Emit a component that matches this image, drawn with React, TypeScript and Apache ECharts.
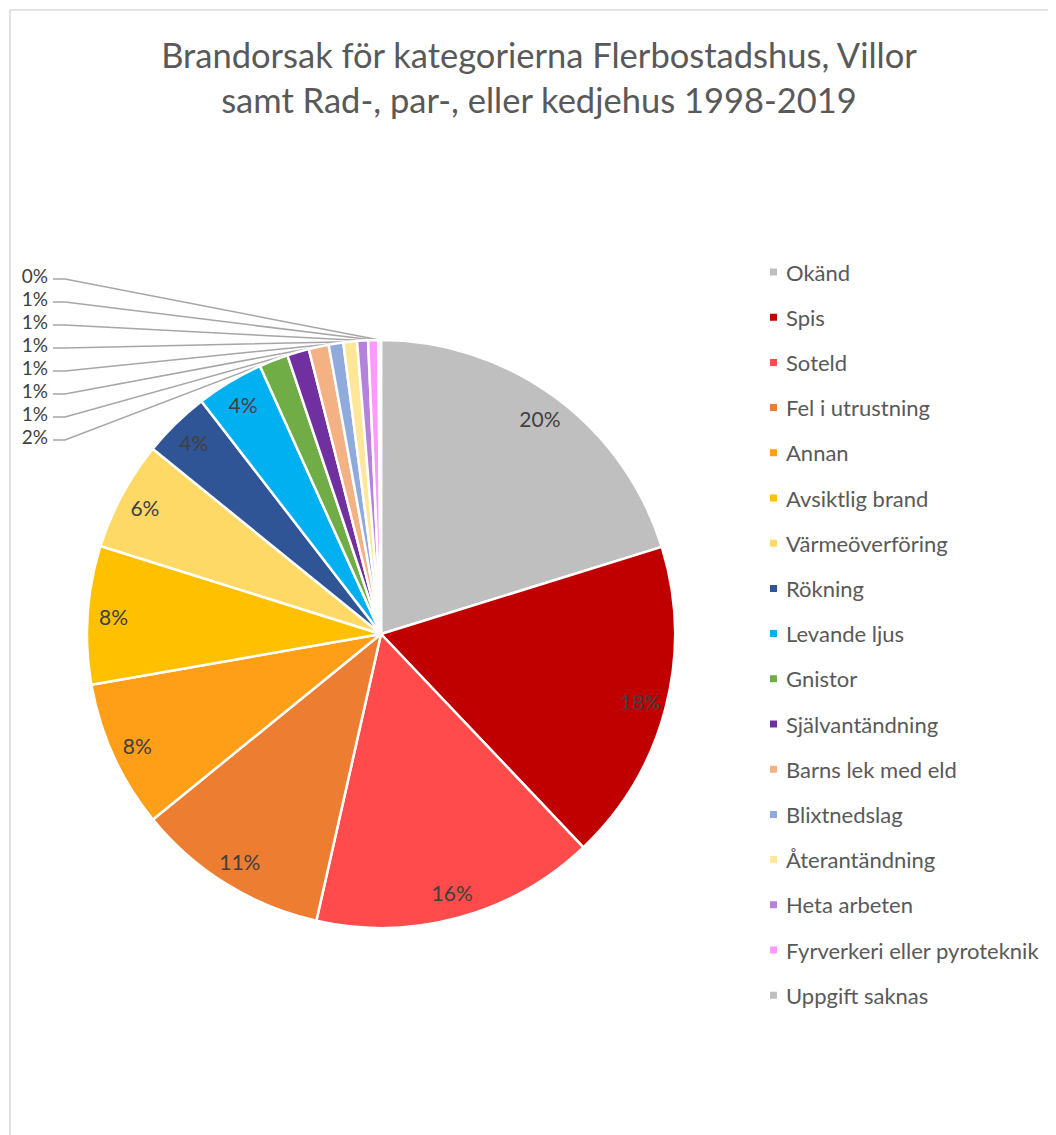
import React, { useEffect, useRef } from "react";
import * as echarts from "echarts";

const categories = [
  "Okänd",
  "Spis",
  "Soteld",
  "Fel i utrustning",
  "Annan",
  "Avsiktlig brand",
  "Värmeöverföring",
  "Rökning",
  "Levande ljus",
  "Gnistor",
  "Självantändning",
  "Barns lek med eld",
  "Blixtnedslag",
  "Återantändning",
  "Heta arbeten",
  "Fyrverkeri eller pyroteknik",
  "Uppgift saknas",
];

const shares = [20.2, 17.7, 15.6, 10.6, 8.1, 7.6, 6.0, 3.7, 3.7, 1.6, 1.2, 1.1, 0.8, 0.75, 0.6, 0.55, 0.15];

const colors = [
  "#BFBFBF",
  "#C00000",
  "#FF4B4B",
  "#ED7D31",
  "#FF9E17",
  "#FFC000",
  "#FFD966",
  "#2F5597",
  "#00B0F0",
  "#70AD47",
  "#7030A0",
  "#F4B183",
  "#8FAADC",
  "#FFE699",
  "#B482DA",
  "#FF99FF",
  "#BFBFBF",
];

const titleLines = [
  "Brandorsak för kategorierna Flerbostadshus, Villor",
  "samt Rad-, par-, eller kedjehus 1998-2019",
];

const insideThreshold = 3;

const FONT = "Lato, 'Liberation Sans', sans-serif";

export default function App() {
  const ref = useRef<HTMLDivElement>(null);

  useEffect(() => {
    if (!ref.current) return;
    const chart = echarts.init(ref.current, null, { renderer: "svg" });
    const total = shares.reduce((a, b) => a + b, 0);
    const pct = (v: number) => Math.round((v / total) * 100) + "%";
    const firstSmall = shares.findIndex((v) => v < insideThreshold);
    const center = [373, 626];
    const R = 294;

    const option: any = {
      animation: false,
      graphic: [
        {
          type: "rect",
          shape: { x: 2, y: 2, width: 1300, height: 1400 },
          style: { fill: "none", stroke: "#d9d9d9", lineWidth: 1.5 },
          silent: true,
        },
        ...titleLines.map((t, i) => ({
          type: "text",
          x: 531,
          y: 46 + i * 45,
          style: {
            text: t,
            align: "center",
            verticalAlign: "middle",
            fontSize: 34.5,
            fontFamily: FONT,
            fill: "#595959",
          },
        })),
      ],
      legend: {
        orient: "vertical",
        left: 760,
        top: 253,
        padding: 0,
        itemWidth: 9,
        itemHeight: 9,
        itemGap: 23.2,
        icon: "rect",
        selectedMode: false,
        data: categories,
        textStyle: {
          fontSize: 22,
          lineHeight: 20,
          padding: [0, 0, 0, 3],
          color: "#595959",
          fontFamily: FONT,
        },
      },
      series: [
        {
          type: "pie",
          center,
          radius: [0, R],
          startAngle: 90,
          clockwise: true,
          avoidLabelOverlap: false,
          itemStyle: { borderColor: "#ffffff", borderWidth: 2.5 },
          label: {
            position: "outside",
            formatter: (p: any) => pct(p.value),
            color: "#404040",
            fontSize: 19,
            lineHeight: 19,
            fontFamily: FONT,
          },
          labelLine: {
            show: true,
            length: 20,
            length2: 20,
            lineStyle: { color: "#a6a6a6", width: 1.5 },
          },
          labelLayout: (p: any) => {
            const j = p.dataIndex - firstSmall;
            const ly = 432 - j * 23;
            const start =
              p.labelLinePoints && p.labelLinePoints[0]
                ? p.labelLinePoints[0]
                : [center[0], center[1] - R];
            return {
              x: 40,
              y: ly - 4,
              align: "right",
              verticalAlign: "middle",
              labelLinePoints: [start, [57, ly], [45, ly]],
            };
          },
          emphasis: { disabled: true },
          data: categories.map((name, i) => ({
            name,
            value: shares[i],
            itemStyle: { color: colors[i] },
            label: { show: shares[i] < insideThreshold },
            labelLine: { show: shares[i] < insideThreshold },
          })),
        },
        {
          type: "pie",
          silent: true,
          center,
          radius: [236, R],
          startAngle: 90,
          clockwise: true,
          itemStyle: { color: "rgba(0,0,0,0)", borderWidth: 0 },
          label: {
            position: "inside",
            formatter: (p: any) => pct(p.value),
            color: "#404040",
            fontSize: 21,
            fontFamily: FONT,
          },
          labelLine: { show: false },
          emphasis: { disabled: true },
          data: categories.map((name, i) => ({
            name,
            value: shares[i],
            label: { show: shares[i] >= insideThreshold },
          })),
        },
      ],
    };

    chart.setOption(option);
    return () => chart.dispose();
  }, []);

  return <div ref={ref} style={{ width: 1048, height: 1127 }} />;
}
